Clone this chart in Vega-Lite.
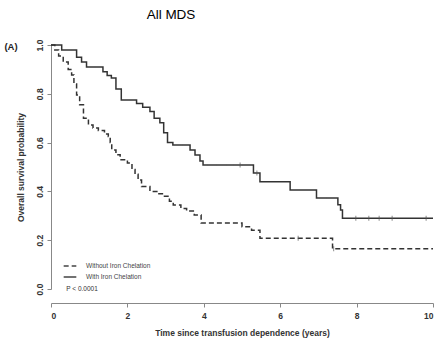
{
  "$schema": "https://vega.github.io/schema/vega-lite/v6.json",
  "width": 382,
  "height": 244,
  "autosize": {"type": "none"},
  "padding": {"left": 51, "top": 45, "right": 5, "bottom": 52},
  "title": {"text": "All MDS", "anchor": "middle", "dx": -71, "offset": 18, "fontSize": 13.5, "fontWeight": "normal", "font": "Liberation Sans", "color": "#000"},
  "config": {
    "view": {"stroke": null},
    "font": "Liberation Sans",
    "axis": {"grid": false, "domainColor": "#888", "tickColor": "#888", "labelColor": "#333", "titleColor": "#333", "labelFont": "Liberation Sans", "titleFont": "Liberation Sans", "labelFontWeight": "bold", "titleFontWeight": "bold", "labelFontSize": 8.5, "titleFontSize": 8.5, "tickSize": 4}
  },
  "datasets": {
    "curves": [
      {"t": 0, "s": 1.0, "g": "With Iron Chelation"},
      {"t": 0.28, "s": 0.98, "g": "With Iron Chelation"},
      {"t": 0.67, "s": 0.95, "g": "With Iron Chelation"},
      {"t": 0.8, "s": 0.93, "g": "With Iron Chelation"},
      {"t": 0.93, "s": 0.91, "g": "With Iron Chelation"},
      {"t": 1.36, "s": 0.89, "g": "With Iron Chelation"},
      {"t": 1.47, "s": 0.875, "g": "With Iron Chelation"},
      {"t": 1.58, "s": 0.865, "g": "With Iron Chelation"},
      {"t": 1.7, "s": 0.82, "g": "With Iron Chelation"},
      {"t": 1.84, "s": 0.775, "g": "With Iron Chelation"},
      {"t": 2.24, "s": 0.76, "g": "With Iron Chelation"},
      {"t": 2.4, "s": 0.745, "g": "With Iron Chelation"},
      {"t": 2.59, "s": 0.727, "g": "With Iron Chelation"},
      {"t": 2.7, "s": 0.7, "g": "With Iron Chelation"},
      {"t": 2.85, "s": 0.681, "g": "With Iron Chelation"},
      {"t": 2.95, "s": 0.64, "g": "With Iron Chelation"},
      {"t": 3.05, "s": 0.6, "g": "With Iron Chelation"},
      {"t": 3.19, "s": 0.59, "g": "With Iron Chelation"},
      {"t": 3.64, "s": 0.57, "g": "With Iron Chelation"},
      {"t": 3.77, "s": 0.549, "g": "With Iron Chelation"},
      {"t": 3.9, "s": 0.525, "g": "With Iron Chelation"},
      {"t": 3.98, "s": 0.508, "g": "With Iron Chelation"},
      {"t": 5.3, "s": 0.475, "g": "With Iron Chelation"},
      {"t": 5.47, "s": 0.44, "g": "With Iron Chelation"},
      {"t": 6.26, "s": 0.406, "g": "With Iron Chelation"},
      {"t": 6.95, "s": 0.373, "g": "With Iron Chelation"},
      {"t": 7.51, "s": 0.345, "g": "With Iron Chelation"},
      {"t": 7.58, "s": 0.324, "g": "With Iron Chelation"},
      {"t": 7.63, "s": 0.29, "g": "With Iron Chelation"},
      {"t": 10, "s": 0.29, "g": "With Iron Chelation"},
      {"t": 0, "s": 1.0, "g": "Without Iron Chelation"},
      {"t": 0.1, "s": 0.98, "g": "Without Iron Chelation"},
      {"t": 0.2, "s": 0.955, "g": "Without Iron Chelation"},
      {"t": 0.32, "s": 0.93, "g": "Without Iron Chelation"},
      {"t": 0.45, "s": 0.9, "g": "Without Iron Chelation"},
      {"t": 0.54, "s": 0.877, "g": "Without Iron Chelation"},
      {"t": 0.6, "s": 0.84, "g": "Without Iron Chelation"},
      {"t": 0.67, "s": 0.795, "g": "Without Iron Chelation"},
      {"t": 0.75, "s": 0.755, "g": "Without Iron Chelation"},
      {"t": 0.85, "s": 0.7, "g": "Without Iron Chelation"},
      {"t": 0.98, "s": 0.672, "g": "Without Iron Chelation"},
      {"t": 1.1, "s": 0.66, "g": "Without Iron Chelation"},
      {"t": 1.24, "s": 0.65, "g": "Without Iron Chelation"},
      {"t": 1.4, "s": 0.635, "g": "Without Iron Chelation"},
      {"t": 1.5, "s": 0.625, "g": "Without Iron Chelation"},
      {"t": 1.55, "s": 0.6, "g": "Without Iron Chelation"},
      {"t": 1.59, "s": 0.57, "g": "Without Iron Chelation"},
      {"t": 1.7, "s": 0.55, "g": "Without Iron Chelation"},
      {"t": 1.81, "s": 0.53, "g": "Without Iron Chelation"},
      {"t": 2.0, "s": 0.516, "g": "Without Iron Chelation"},
      {"t": 2.12, "s": 0.49, "g": "Without Iron Chelation"},
      {"t": 2.2, "s": 0.47, "g": "Without Iron Chelation"},
      {"t": 2.28, "s": 0.447, "g": "Without Iron Chelation"},
      {"t": 2.37, "s": 0.42, "g": "Without Iron Chelation"},
      {"t": 2.59, "s": 0.4, "g": "Without Iron Chelation"},
      {"t": 2.8, "s": 0.39, "g": "Without Iron Chelation"},
      {"t": 2.94, "s": 0.38, "g": "Without Iron Chelation"},
      {"t": 3.1, "s": 0.36, "g": "Without Iron Chelation"},
      {"t": 3.2, "s": 0.344, "g": "Without Iron Chelation"},
      {"t": 3.4, "s": 0.33, "g": "Without Iron Chelation"},
      {"t": 3.55, "s": 0.32, "g": "Without Iron Chelation"},
      {"t": 3.75, "s": 0.303, "g": "Without Iron Chelation"},
      {"t": 3.93, "s": 0.27, "g": "Without Iron Chelation"},
      {"t": 5.0, "s": 0.255, "g": "Without Iron Chelation"},
      {"t": 5.25, "s": 0.241, "g": "Without Iron Chelation"},
      {"t": 5.47, "s": 0.208, "g": "Without Iron Chelation"},
      {"t": 7.37, "s": 0.165, "g": "Without Iron Chelation"},
      {"t": 10, "s": 0.165, "g": "Without Iron Chelation"}
    ],
    "censors": [
      {"t": 4.95, "s": 0.508},
      {"t": 5.39, "s": 0.475},
      {"t": 7.98, "s": 0.29},
      {"t": 8.32, "s": 0.29},
      {"t": 8.59, "s": 0.29},
      {"t": 8.93, "s": 0.29},
      {"t": 9.82, "s": 0.29},
      {"t": 6.47, "s": 0.208},
      {"t": 7.4, "s": 0.165}
    ],
    "pnote": [
      {"t": 0.4, "s": 0.0, "label": "P < 0.0001"}
    ],
    "panel": [
      {"t": -1.22, "s": 0.99, "label": "(A)"}
    ]
  },
  "layer": [
    {
      "data": {"name": "curves"},
      "mark": {"type": "line", "interpolate": "step-after", "strokeWidth": 1.5, "color": "#333"},
      "encoding": {
        "x": {"field": "t", "type": "quantitative", "scale": {"domain": [0, 10], "nice": false},
          "axis": {"values": [0, 2, 4, 6, 8, 10], "offset": 14, "title": "Time since transfusion dependence (years)", "labelPadding": 4, "titlePadding": 9}},
        "y": {"field": "s", "type": "quantitative", "scale": {"domain": [0, 1], "nice": false},
          "axis": {"values": [0, 0.2, 0.4, 0.6, 0.8, 1.0], "format": ".1f", "labelAngle": -90, "labelAlign": "center", "labelBaseline": "bottom", "labelPadding": 3, "title": "Overall survival probability", "titlePadding": 10}},
        "strokeDash": {"field": "g", "type": "nominal",
          "scale": {"domain": ["Without Iron Chelation", "With Iron Chelation"], "range": [[5, 3], [1, 0]]},
          "legend": {"orient": "none", "legendX": 12, "legendY": 214, "title": null, "symbolType": "stroke", "symbolSize": 160, "symbolStrokeWidth": 1.3, "symbolStrokeColor": "#444", "labelFontSize": 6.5, "labelColor": "#444", "labelFont": "Liberation Sans", "labelOffset": 9, "rowPadding": 0, "symbolOffset": 0}}
      }
    },
    {
      "data": {"name": "censors"},
      "mark": {"type": "tick", "orient": "vertical", "size": 5, "thickness": 1, "color": "#555"},
      "encoding": {
        "x": {"field": "t", "type": "quantitative"},
        "y": {"field": "s", "type": "quantitative"}
      }
    },
    {
      "data": {"name": "pnote"},
      "mark": {"type": "text", "align": "left", "baseline": "middle", "color": "#333", "font": "Liberation Sans", "fontSize": 6.5},
      "encoding": {
        "x": {"field": "t", "type": "quantitative"},
        "y": {"field": "s", "type": "quantitative"},
        "text": {"field": "label"}
      }
    },
    {
      "data": {"name": "panel"},
      "mark": {"type": "text", "align": "left", "baseline": "middle", "color": "#222", "font": "Liberation Sans", "fontSize": 9.5, "fontWeight": "bold"},
      "encoding": {
        "x": {"field": "t", "type": "quantitative"},
        "y": {"field": "s", "type": "quantitative"},
        "text": {"field": "label"}
      }
    }
  ]
}
